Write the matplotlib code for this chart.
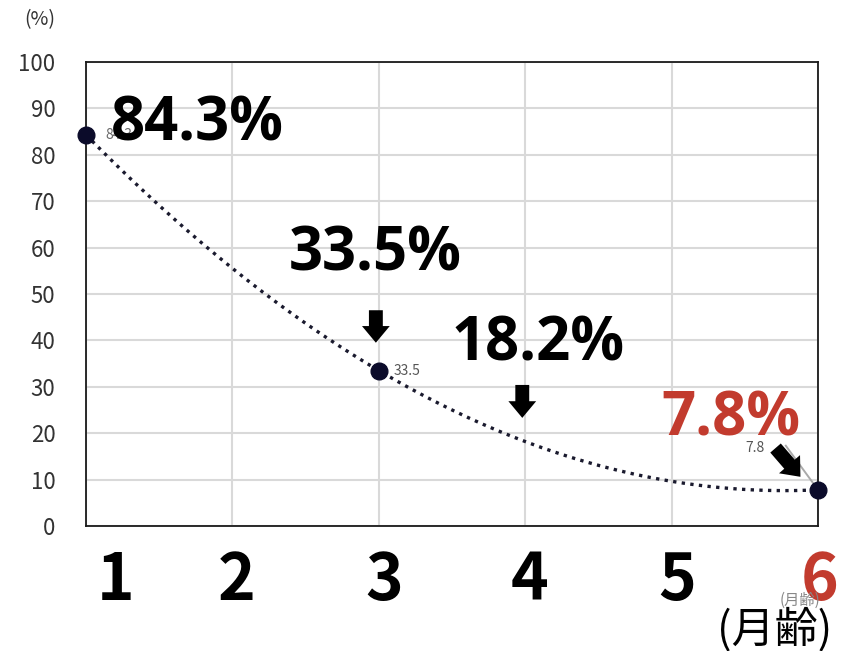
import numpy as np
import matplotlib.pyplot as plt

plt.rcParams['font.family'] = ['Noto Sans CJK JP', 'DejaVu Sans']

# data
months = [1, 3, 6]
rates = [84.3, 33.5, 7.8]
callout_months = [1, 3, 4, 6]
callout_values = [84.3, 33.5, 18.2, 7.8]
month_labels = ['1', '2', '3', '4', '5', '6']
y_ticks = [0, 10, 20, 30, 40, 50, 60, 70, 80, 90, 100]

RED = '#c23b2e'

fig = plt.figure(figsize=(8.41, 6.51), dpi=100)
ax = fig.add_axes([86 / 841, 1 - 526 / 651, (818 - 86) / 841, (526 - 62) / 651])

ax.set_xlim(1, 6)
ax.set_ylim(0, 100)
ax.set_yticks(y_ticks)
ax.set_xticks(range(1, 7))
ax.set_xticklabels([])
ax.tick_params(axis='x', length=0)
ax.tick_params(axis='y', length=0, labelsize=16, labelcolor='#333333', pad=22)
ax.grid(True, color='#d9d9d9', linewidth=1.5)
ax.set_axisbelow(True)
for s in ax.spines.values():
    s.set_color('#1a1a1a')
    s.set_linewidth(1.3)

# trendline (2nd order polynomial through the measured points)
coef = np.polyfit(months, rates, 2)
xs = np.linspace(1, 6, 200)
ax.plot(xs, np.polyval(coef, xs), color='#1a1a2e', linestyle=(0, (1, 1.6)),
        linewidth=2.4, zorder=3)

ax.plot(months, rates, 'o', color='#0b0b2a', markersize=12, zorder=5,
        clip_on=False)

# small data labels
ax.text(1.13, rates[0], '84.3', fontsize=10, color='#666666', va='center', zorder=2)
ax.text(3.1, rates[1], '33.5', fontsize=10, color='#555555', va='center')
ax.text(5.57, 16.8, '7.8', fontsize=10, color='#555555', ha='center', va='center')
ax.plot([5.78, 6], [17.3, rates[2]], color='#aaaaaa', linewidth=1.4, zorder=2)

# big callouts
big = dict(fontsize=43, fontweight='bold', ha='center', va='center', zorder=6,
           family=['Open Sans', 'DejaVu Sans'])
ax.text(1.76, 86.4, f'{callout_values[0]}%', color='black', **big)
ax.text(2.974, 58.4, f'{callout_values[1]}%', color='black', **big)
ax.text(4.087, 39.0, f'{callout_values[2]}%', color='black', **big)
ax.text(5.406, 22.8, f'{callout_values[3]}%', color=RED, **big)

arrow = dict(arrowstyle='simple,head_width=1.0,head_length=0.6,tail_width=0.5',
             color='black', lw=0, mutation_scale=20, shrinkA=0, shrinkB=0)
ax.annotate('', xy=(2.98, 39.5), xytext=(2.98, 46.5), arrowprops=arrow, zorder=6)
ax.annotate('', xy=(3.98, 23.3), xytext=(3.98, 30.4), arrowprops=arrow, zorder=6)
ax.annotate('', xy=(5.88, 10.6), xytext=(5.71, 16.8), arrowprops=arrow, zorder=6)

# month labels
label_x = [1.2, 2.03, 3.04, 4.03, 5.04, 6.01]
for x, lab in zip(label_x, month_labels):
    ax.text(x, -0.118, lab, transform=ax.get_xaxis_transform(), fontsize=46,
            fontweight='bold', ha='center', va='center',
            color=RED if lab == '6' else 'black', clip_on=False, zorder=4)

fig.text(800 / 841, 1 - 600 / 651, '(月齢)', fontsize=11, color='#888888',
         ha='center', va='center', zorder=1)
fig.text(775 / 841, 1 - 630 / 651, '(月齢)', fontsize=31, color='black',
         ha='center', va='center')
fig.text(40 / 841, 1 - 20 / 651, '(%)', fontsize=14, color='#333333',
         ha='center', va='center')

fig.savefig('out.png', dpi=100)
